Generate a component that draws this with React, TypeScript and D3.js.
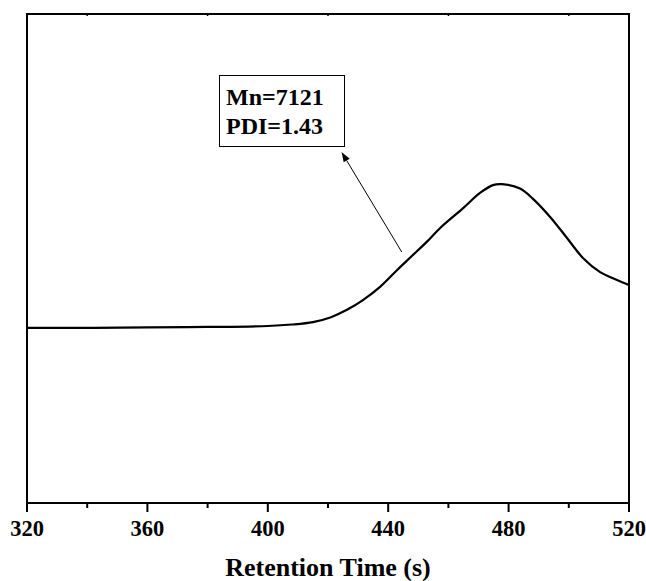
import React from "react";
import * as d3 from "d3";

const times = [320, 340, 360, 380, 400, 408, 415, 421, 426.3, 431.6, 437.3, 442.9, 448.2, 452.8, 457.2, 464.9, 470.5, 474.8, 477.8, 483.8, 488.1, 493.8, 499.4, 504.7, 510.4, 516, 520];
const intensity = [0.358, 0.358, 0.359, 0.360, 0.362, 0.365, 0.370, 0.380, 0.395, 0.415, 0.442, 0.476, 0.507, 0.534, 0.562, 0.603, 0.634, 0.650, 0.652, 0.643, 0.622, 0.585, 0.542, 0.501, 0.472, 0.456, 0.446];
const majorTicks = [320, 360, 400, 440, 480, 520];
const minorTicks = [340, 380, 420, 460, 500];
const annotationLines = ["Mn=7121", "PDI=1.43"];
const xTitle = "Retention Time (s)";

const W = 646, H = 581;
const M = { left: 27, right: 17, top: 14, bottom: 78 };
const font = "'Liberation Serif', 'Times New Roman', serif";

export default function App() {
  const x = d3.scaleLinear().domain([320, 520]).range([M.left, W - M.right]);
  const y = d3.scaleLinear().domain([0, 1]).range([H - M.bottom, M.top]);
  const data = times.map((t, i) => [t, intensity[i]] as [number, number]);
  const line = d3.line<[number, number]>().x(d => x(d[0])).y(d => y(d[1])).curve(d3.curveCatmullRom.alpha(0.5));
  const x0 = M.left, x1 = W - M.right, y0 = M.top, y1 = H - M.bottom;

  const tail: [number, number] = [444.5, y.invert(252)];
  const tip: [number, number] = [424.5, y.invert(152)];
  const tx = x(tip[0]), ty = y(tip[1]), sx = x(tail[0]), sy = y(tail[1]);
  const ang = Math.atan2(ty - sy, tx - sx);
  const hl = 10, hw = 3.5;
  const bx = tx - hl * Math.cos(ang), by = ty - hl * Math.sin(ang);
  const head = `${tx},${ty} ${bx + hw * Math.sin(ang)},${by - hw * Math.cos(ang)} ${bx - hw * Math.sin(ang)},${by + hw * Math.cos(ang)}`;

  return (
    <svg width={W} height={H} style={{ position: "absolute", left: 0, top: 0, background: "#fff" }} fontFamily={font}>
      <path d={line(data) || ""} fill="none" stroke="#000" strokeWidth={2.2} />
      <rect x={x0} y={y0} width={x1 - x0} height={y1 - y0} fill="none" stroke="#000" strokeWidth={2} />
      {majorTicks.map(t => (
        <g key={"M" + t}>
          <line x1={x(t)} x2={x(t)} y1={y1} y2={y1 + 9} stroke="#000" strokeWidth={2} />
          <text x={x(t)} y={y1 + 33} textAnchor="middle" fontSize={22.5} fontWeight="bold">{t}</text>
        </g>
      ))}
      {minorTicks.map(t => (
        <g key={"m" + t}>
          <line x1={x(t)} x2={x(t)} y1={y1} y2={y1 + 5} stroke="#000" strokeWidth={2} />
          <line x1={x(t)} x2={x(t)} y1={y0} y2={y0 + 2} stroke="#000" strokeWidth={1.5} />
        </g>
      ))}
      <text x={(x0 + x1) / 2} y={576} textAnchor="middle" fontSize={26} fontWeight="bold">{xTitle}</text>
      <rect x={219.5} y={75.5} width={125} height={71} fill="#fff" stroke="#000" strokeWidth={1} />
      {annotationLines.map((s, i) => (
        <text key={s} x={226} y={105 + i * 29} fontSize={24} fontWeight="bold">{s}</text>
      ))}
      <line x1={sx} y1={sy} x2={bx} y2={by} stroke="#000" strokeWidth={1} />
      <polygon points={head} fill="#000" />
    </svg>
  );
}
